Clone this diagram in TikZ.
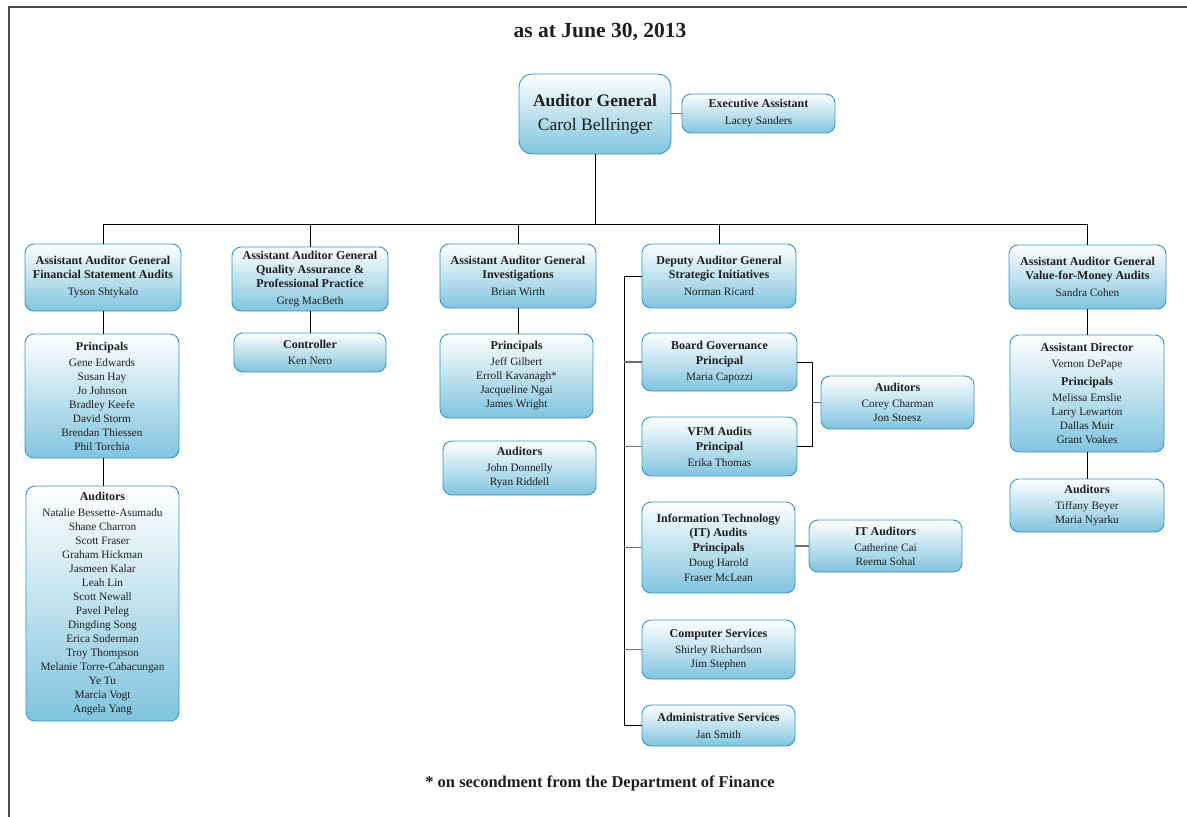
\documentclass[tikz,border=0pt]{standalone}
\usepackage{fontspec}
\setmainfont{Liberation Serif}
\definecolor{boxborder}{RGB}{52,150,200}
\definecolor{boxbot}{RGB}{128,196,222}
\definecolor{txt}{RGB}{30,30,30}
\definecolor{stub}{RGB}{110,110,110}
\newcommand{\hd}[1]{{\fontsize{12}{14}\selectfont\bfseries #1}}
\begin{document}
\begin{tikzpicture}[x=1pt,y=-1pt,
  box/.style={draw=boxborder, line width=0.9pt, rounded corners=9pt, top color=white, bottom color=boxbot,
    align=center, text=txt, font=\fontsize{11.3}{14}\selectfont, inner sep=1pt},
  tree/.style={draw=black, line width=0.9pt},
  side/.style={draw=stub, line width=1.2pt}]
\useasboundingbox (0,0) rectangle (1187,817);
\draw[draw=black!70, line width=1.3pt] (9,817) -- (9,7) -- (1187,7);

\node[font=\fontsize{21.5}{24}\selectfont\bfseries, text=txt] (title) at (600,32) {as at June 30, 2013};
\node[font=\fontsize{16.5}{20}\selectfont\bfseries, text=txt] (foot) at (600,783) {* on secondment from the Department of Finance};

% top
\node[box, rounded corners=13pt, minimum width=152pt, minimum height=80pt, font=\fontsize{17.5}{24}\selectfont] (AG) at (595,114)
  {\textbf{Auditor General}\\Carol Bellringer};
\node[box, minimum width=153pt, minimum height=39pt, font=\fontsize{11.5}{17}\selectfont] (EA) at (758.5,113.5)
  {\hd{Executive Assistant}\\Lacey Sanders};

% level 1
\node[box, minimum width=156pt, minimum height=67pt] (FSA) at (103,277.5)
  {\hd{Assistant Auditor General}\\\hd{Financial Statement Audits}\\[3pt]Tyson Shtykalo};
\node[box, minimum width=156pt, minimum height=64pt] (QA) at (310,279)
  {\hd{Assistant Auditor General}\\\hd{Quality Assurance \&}\\\hd{Professional Practice}\\[3pt]Greg MacBeth};
\node[box, minimum width=156pt, minimum height=64pt] (INV) at (518,276)
  {\hd{Assistant Auditor General}\\\hd{Investigations}\\[3pt]Brian Wirth};
\node[box, minimum width=154pt, minimum height=64pt] (DEP) at (719,276)
  {\hd{Deputy Auditor General}\\\hd{Strategic Initiatives}\\[3pt]Norman Ricard};
\node[box, minimum width=157pt, minimum height=64pt] (VFM) at (1087.5,277)
  {\hd{Assistant Auditor General}\\\hd{Value-for-Money Audits}\\[3pt]Sandra Cohen};

% column 1
\node[box, minimum width=154pt, minimum height=124pt] (PF) at (102,396)
  {\hd{Principals}\\[2pt]Gene Edwards\\Susan Hay\\Jo Johnson\\Bradley Keefe\\David Storm\\Brendan Thiessen\\Phil Torchia};
\node[box, minimum width=153pt, minimum height=235pt] (AF) at (102.5,603.5)
  {\hd{Auditors}\\[2pt]Natalie Bessette-Asumadu\\Shane Charron\\Scott Fraser\\Graham Hickman\\Jasmeen Kalar\\Leah Lin\\Scott Newall\\Pavel Peleg\\Dingding Song\\Erica Suderman\\Troy Thompson\\Melanie Torre-Cabacungan\\Ye Tu\\Marcia Vogt\\Angela Yang};

% column 2
\node[box, minimum width=152pt, minimum height=39pt, font=\fontsize{11.3}{16}\selectfont] (CTL) at (310,352.5)
  {\hd{Controller}\\Ken Nero};

% column 3
\node[box, minimum width=153pt, minimum height=84pt] (PI) at (516.5,376)
  {\hd{Principals}\\[2pt]Jeff Gilbert\\Erroll Kavanagh*\\Jacqueline Ngai\\James Wright};
\node[box, minimum width=153pt, minimum height=54pt] (AI) at (519.5,468)
  {\hd{Auditors}\\[2pt]John Donnelly\\Ryan Riddell};

% column 4
\node[box, minimum width=155pt, minimum height=58pt, font=\fontsize{11.3}{15.5}\selectfont] (BG) at (719.5,362)
  {\hd{Board Governance}\\\hd{Principal}\\Maria Capozzi};
\node[box, minimum width=155pt, minimum height=59pt, font=\fontsize{11.3}{15.5}\selectfont] (VA) at (719.5,446.5)
  {\hd{VFM Audits}\\\hd{Principal}\\Erika Thomas};
\node[box, minimum width=153pt, minimum height=53pt] (AC) at (897.5,402.5)
  {\hd{Auditors}\\[2pt]Corey Charman\\Jon Stoesz};
\node[box, minimum width=153pt, minimum height=91pt, font=\fontsize{11.3}{14.5}\selectfont] (IT) at (718.5,547.5)
  {\hd{Information Technology}\\\hd{(IT) Audits}\\\hd{Principals}\\[1pt]Doug Harold\\Fraser McLean};
\node[box, minimum width=153pt, minimum height=52pt] (ITA) at (885.5,546)
  {\hd{IT Auditors}\\[2pt]Catherine Cai\\Reema Sohal};
\node[box, minimum width=153pt, minimum height=59pt] (CS) at (718.5,649.5)
  {\hd{Computer Services}\\[2pt]Shirley Richardson\\Jim Stephen};
\node[box, minimum width=153pt, minimum height=41pt, font=\fontsize{11.3}{17}\selectfont] (ADM) at (718.5,725.5)
  {\hd{Administrative Services}\\Jan Smith};

% column 5
\node[box, minimum width=154pt, minimum height=117pt] (AD) at (1087,393.5)
  {\hd{Assistant Director}\\[2pt]Vernon DePape\\[4pt]\hd{Principals}\\[2pt]Melissa Emslie\\Larry Lewarton\\Dallas Muir\\Grant Voakes};
\node[box, minimum width=154pt, minimum height=53pt] (AV) at (1087,505.5)
  {\hd{Auditors}\\[2pt]Tiffany Beyer\\Maria Nyarku};

% connectors
\coordinate (barL) at (103,224);
\coordinate (barR) at (1087.5,224);
\draw[tree] (barL) -- (barR);
\draw[tree] (AG.south) -- (AG.south |- barL);
\draw[tree] (FSA.north) -- (FSA.north |- barL);
\draw[tree] (QA.north) -- (QA.north |- barL);
\draw[tree] (INV.north) -- (INV.north |- barL);
\draw[tree] (DEP.north) -- (DEP.north |- barL);
\draw[tree] (VFM.north) -- (VFM.north |- barL);
\draw[side] (AG.east |- EA.west) -- (EA.west);

\draw[tree] (FSA.south) -- (FSA.south |- PF.north);
\draw[tree] (FSA.south |- PF.south) -- (FSA.south |- AF.north);
\draw[tree] (QA.south) -- (QA.south |- CTL.north);
\draw[tree] (INV.south) -- (INV.south |- PI.north);
\draw[tree] (VFM.south) -- (VFM.south |- AD.north);
\draw[tree] (AD.south) -- (AV.north);

\coordinate (spT) at (624,276);
\draw[tree] (DEP.west) -- (spT) -- (spT |- ADM.west) -- (ADM.west);
\draw[side] (spT |- BG.west) -- (BG.west);
\draw[side] (spT |- VA.west) -- (VA.west);
\draw[side] (spT |- IT.west) -- (IT.west);
\draw[side] (spT |- CS.west) -- (CS.west);

\coordinate (brk) at (812,402.5);
\draw[tree] (BG.east) -- (brk |- BG.east) -- (brk |- VA.east) -- (VA.east);
\draw[side] (brk) -- (AC.west);
\draw[side] (IT.east |- ITA.west) -- (ITA.west);
\end{tikzpicture}
\end{document}
